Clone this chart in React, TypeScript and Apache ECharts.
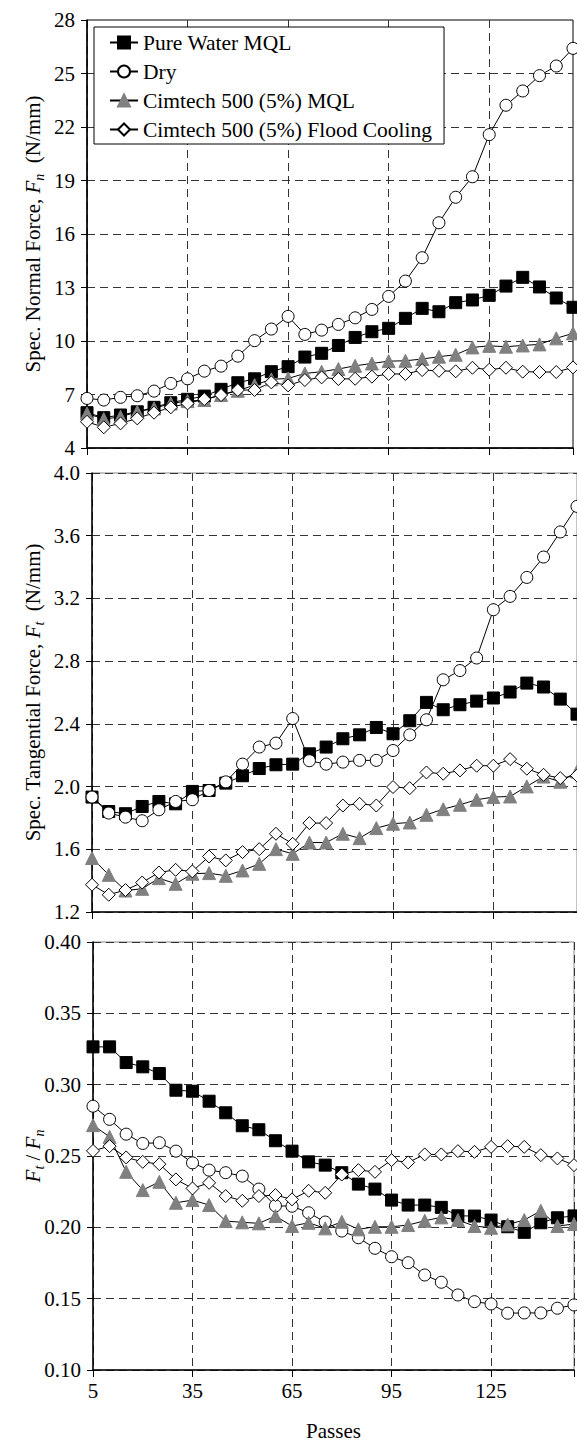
import React, { useEffect, useRef } from 'react';
import * as echarts from 'echarts';

const FONT = 'Liberation Serif';

// x values (passes)
const PASSES = [5, 10, 15, 20, 25, 30, 35, 40, 45, 50, 55, 60, 65, 70, 75, 80, 85, 90, 95, 100, 105, 110, 115, 120, 125, 130, 135, 140, 145, 150];
const X_TICK_LABELS = ['5', '35', '65', '95', '125'];

const SERIES_NAMES = ['Pure Water MQL', 'Dry', 'Cimtech 500 (5%) MQL', 'Cimtech 500 (5%) Flood Cooling'];

// Spec. normal force Fn (N/mm)
const PW_FN = [5.98, 5.70, 5.85, 6.03, 6.28, 6.54, 6.73, 6.91, 7.29, 7.66, 7.88, 8.28, 8.56, 9.10, 9.31, 9.75, 10.20, 10.52, 10.71, 11.27, 11.83, 11.64, 12.15, 12.30, 12.56, 13.08, 13.57, 13.03, 12.41, 11.89];
const DRY_FN = [6.78, 6.69, 6.84, 6.93, 7.19, 7.62, 7.88, 8.31, 8.59, 9.15, 10.02, 10.67, 11.38, 10.37, 10.61, 10.93, 11.30, 11.77, 12.50, 13.36, 14.67, 16.63, 18.06, 19.21, 21.57, 23.22, 24.02, 24.88, 25.42, 26.41];
const CIM_FN = [5.94, 5.62, 5.75, 6.03, 6.22, 6.50, 6.63, 6.69, 6.97, 7.21, 7.53, 7.85, 7.90, 8.18, 8.28, 8.43, 8.61, 8.74, 8.87, 8.89, 8.99, 9.12, 9.23, 9.64, 9.73, 9.68, 9.75, 9.81, 10.15, 10.43];
const FLOOD_FN = [5.47, 5.16, 5.38, 5.66, 5.98, 6.28, 6.50, 6.74, 6.97, 7.25, 7.25, 7.68, 7.51, 7.81, 7.96, 7.87, 7.88, 8.00, 8.15, 8.15, 8.37, 8.33, 8.30, 8.50, 8.39, 8.50, 8.28, 8.26, 8.26, 8.52];

// Spec. tangential force Ft (N/mm)
const PW_FT = [1.933, 1.841, 1.827, 1.873, 1.905, 1.890, 1.969, 1.975, 2.022, 2.069, 2.115, 2.139, 2.143, 2.209, 2.252, 2.305, 2.330, 2.377, 2.337, 2.420, 2.537, 2.490, 2.522, 2.545, 2.565, 2.603, 2.660, 2.635, 2.558, 2.462];
const DRY_FT = [1.933, 1.831, 1.805, 1.782, 1.852, 1.905, 1.916, 1.975, 2.030, 2.143, 2.252, 2.277, 2.434, 2.165, 2.143, 2.156, 2.167, 2.167, 2.230, 2.330, 2.426, 2.681, 2.740, 2.820, 3.128, 3.213, 3.334, 3.464, 3.624, 3.787];
const CIM_FT = [1.544, 1.437, 1.337, 1.348, 1.416, 1.380, 1.444, 1.448, 1.431, 1.465, 1.507, 1.601, 1.571, 1.643, 1.643, 1.699, 1.671, 1.735, 1.763, 1.771, 1.820, 1.856, 1.884, 1.916, 1.933, 1.937, 2.001, 2.064, 2.031, 2.096];
const FLOOD_FT = [1.374, 1.310, 1.340, 1.388, 1.452, 1.469, 1.459, 1.554, 1.529, 1.582, 1.601, 1.699, 1.635, 1.767, 1.767, 1.879, 1.890, 1.879, 1.997, 1.990, 2.090, 2.082, 2.103, 2.133, 2.133, 2.175, 2.114, 2.075, 2.054, 2.070];

// Ratio Ft / Fn
const PW_R = [0.3265, 0.3265, 0.3155, 0.3125, 0.3078, 0.2961, 0.2954, 0.2884, 0.2803, 0.2712, 0.2684, 0.2607, 0.2534, 0.2459, 0.2436, 0.2383, 0.2303, 0.2268, 0.2191, 0.2156, 0.2156, 0.2140, 0.2081, 0.2079, 0.2051, 0.2004, 0.1965, 0.2032, 0.2067, 0.2080];
const DRY_R = [0.2849, 0.2757, 0.2653, 0.2588, 0.2593, 0.2534, 0.2452, 0.2401, 0.2383, 0.2359, 0.2268, 0.2151, 0.2148, 0.2102, 0.2037, 0.1974, 0.1927, 0.1853, 0.1794, 0.1752, 0.1666, 0.1615, 0.1526, 0.1479, 0.1463, 0.1398, 0.1400, 0.1400, 0.1433, 0.1456];
const CIM_R = [0.2716, 0.2634, 0.2389, 0.2261, 0.2319, 0.2172, 0.2191, 0.2156, 0.2044, 0.2035, 0.2028, 0.2079, 0.2009, 0.2032, 0.1993, 0.2039, 0.1986, 0.2004, 0.2004, 0.2016, 0.2046, 0.2070, 0.2051, 0.2009, 0.1997, 0.2020, 0.2051, 0.2116, 0.2009, 0.2023];
const FLOOD_R = [0.2536, 0.2569, 0.2490, 0.2459, 0.2443, 0.2336, 0.2273, 0.2312, 0.2219, 0.2186, 0.2219, 0.2226, 0.2196, 0.2256, 0.2242, 0.2370, 0.2401, 0.2389, 0.2471, 0.2455, 0.2511, 0.2511, 0.2534, 0.2529, 0.2564, 0.2569, 0.2564, 0.2506, 0.2483, 0.2436];

// axis offsets so that ticks start at 5 (x) and 4 (Fn)
const X_MIN = 5;
const X_MAX = 150;
const FN_MIN = 4;

const MARKERS = [
  { symbol: 'rect', size: 12, fill: '#000000', stroke: '#000000' },
  { symbol: 'circle', size: 12, fill: '#ffffff', stroke: '#000000' },
  { symbol: 'triangle', size: 13, fill: '#808080', stroke: '#808080' },
  { symbol: 'diamond', size: 13, fill: '#ffffff', stroke: '#000000' },
];

const PANELS = [
  { data: [PW_FN, DRY_FN, CIM_FN, FLOOD_FN], yOffset: FN_MIN },
  { data: [PW_FT, DRY_FT, CIM_FT, FLOOD_FT], yOffset: 0 },
  { data: [PW_R, DRY_R, CIM_R, FLOOD_R], yOffset: 0 },
];

const nameRich = {
  a: { fontFamily: FONT, fontSize: 21, color: '#000', lineHeight: 26 },
  i: { fontFamily: FONT, fontSize: 21, fontStyle: 'italic', color: '#000', lineHeight: 26 },
  s: { fontFamily: FONT, fontSize: 14, fontStyle: 'italic', color: '#000', lineHeight: 12, verticalAlign: 'bottom' },
};

function buildOption() {
  const grids = [
    { left: 87, top: 20, width: 486, height: 428, show: true, borderColor: '#000', borderWidth: 1, backgroundColor: 'transparent' },
    { left: 92, top: 473, width: 487, height: 439, show: true, borderColor: '#888', borderWidth: 1, backgroundColor: 'transparent' },
    { left: 93, top: 942, width: 487, height: 428, show: true, borderColor: '#888', borderWidth: 1, backgroundColor: 'transparent' },
  ];

  const splitLineFor = (i: number) => ({
    show: true,
    showMaxLine: i !== 0,
    lineStyle: { type: [8, 5], color: '#333', width: 1 },
  });
  const labelStyle = { fontFamily: FONT, fontSize: 21, color: '#000' };

  const xAxes = [0, 1, 2].map((i) => ({
    type: 'value',
    gridIndex: i,
    min: 0,
    max: X_MAX - X_MIN,
    interval: 30,
    axisLine: { show: true, onZero: false, lineStyle: { color: '#000', width: 1.5 } },
    axisTick: { show: true, length: 7, lineStyle: { color: '#000', width: 1 } },
    axisLabel: {
      show: i === 2,
      ...labelStyle,
      margin: 10,
      formatter: (v: number) => {
        const s = String(v + X_MIN);
        return X_TICK_LABELS.indexOf(s) >= 0 ? s : '';
      },
    },
    splitLine: splitLineFor(i),
    name: i === 2 ? 'Passes' : '',
    nameLocation: 'middle',
    nameGap: 50,
    nameMoveOverlap: false,
    nameTextStyle: { fontFamily: FONT, fontSize: 21, color: '#000' },
  }));

  const yCommon = (i: number) => ({
    type: 'value',
    gridIndex: i,
    axisLine: { show: true, onZero: false, lineStyle: { color: '#000', width: 1.5 } },
    axisTick: { show: true, length: 6, lineStyle: { color: '#000', width: 1 } },
    splitLine: splitLineFor(i),
    nameLocation: 'middle',
    nameMoveOverlap: false,
    nameTextStyle: { fontFamily: FONT, fontSize: 21, color: '#000', rich: nameRich },
  });

  const yAxes = [
    {
      ...yCommon(0),
      min: 0,
      max: 28 - FN_MIN,
      interval: 3,
      axisLabel: { ...labelStyle, margin: 12, formatter: (v: number) => String(v + FN_MIN) },
      name: '{a|Spec. Normal Force, }{i|F}{s|n}{a|  (N/mm)}',
      nameGap: 41,
    },
    {
      ...yCommon(1),
      min: 1.2,
      max: 4.0,
      interval: 0.4,
      axisLabel: { ...labelStyle, margin: 12, formatter: (v: number) => v.toFixed(1) },
      name: '{a|Spec. Tangential Force, }{i|F}{s|t}{a|  (N/mm)}',
      nameGap: 46,
    },
    {
      ...yCommon(2),
      min: 0.1,
      max: 0.4,
      interval: 0.05,
      axisLabel: { ...labelStyle, margin: 12, formatter: (v: number) => v.toFixed(2) },
      name: '{i|F}{s|t}{a| / }{i|F}{s|n}',
      nameGap: 47,
    },
  ];

  const series: any[] = [];
  PANELS.forEach((panel, pi) => {
    panel.data.forEach((vals, si) => {
      const m = MARKERS[si];
      series.push({
        type: 'line',
        name: SERIES_NAMES[si],
        xAxisIndex: pi,
        yAxisIndex: pi,
        data: PASSES.map((p, k) => [p - X_MIN, vals[k] - panel.yOffset]),
        symbol: m.symbol,
        symbolSize: m.size,
        showAllSymbol: true,
        lineStyle: { color: '#000', width: 1 },
        itemStyle: { color: m.fill, borderColor: m.stroke, borderWidth: 1 },
        emphasis: { disabled: true },
        clip: false,
        z: 2,
      });
    });
  });

  return {
    animation: false,
    backgroundColor: '#fff',
    textStyle: { fontFamily: FONT },
    grid: grids,
    xAxis: xAxes,
    yAxis: yAxes,
    legend: {
      data: SERIES_NAMES,
      orient: 'vertical',
      left: 94,
      top: 27,
      itemWidth: 28,
      itemHeight: 15,
      itemGap: 0,
      padding: [1, 12, 0, 15],
      borderColor: '#000',
      borderWidth: 1,
      backgroundColor: '#fff',
      selectedMode: false,
      textStyle: { fontFamily: FONT, fontSize: 21.5, color: '#000', lineHeight: 29 },
      z: 10,
    },
    series,
  };
}

export default function App() {
  const ref = useRef<HTMLDivElement>(null);
  useEffect(() => {
    if (!ref.current) return;
    const chart = echarts.init(ref.current, null, { renderer: 'svg' });
    chart.setOption(buildOption() as any);
    return () => chart.dispose();
  }, []);
  return (
    <div
      ref={ref}
      style={{ position: 'absolute', left: 0, top: 0, width: 577, height: 1445, background: '#fff' }}
    />
  );
}
